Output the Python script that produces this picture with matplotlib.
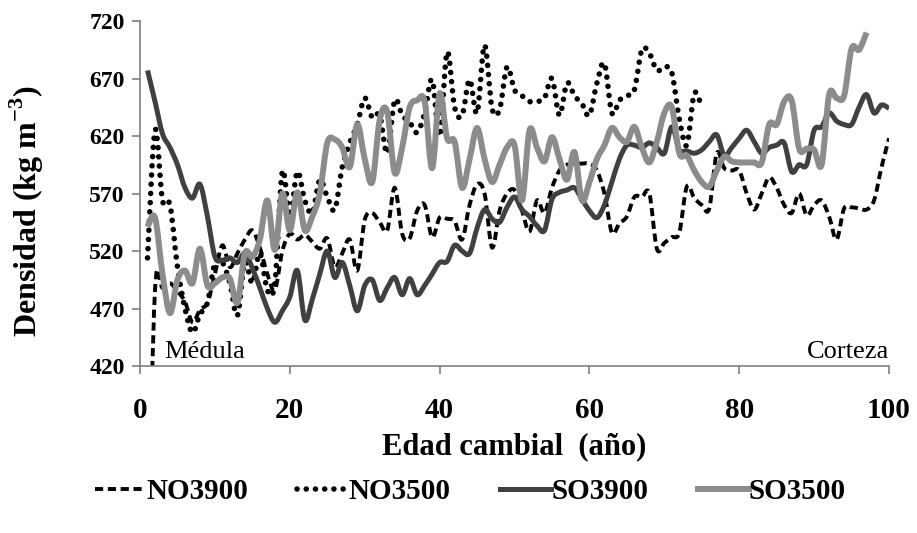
import numpy as np
import matplotlib
matplotlib.use("Agg")
import matplotlib.pyplot as plt
from matplotlib.path import Path
from matplotlib.patches import PathPatch
from matplotlib.lines import Line2D

plt.rcParams['font.family'] = ['Liberation Serif', 'DejaVu Serif']
plt.rcParams['mathtext.fontset'] = 'custom'
plt.rcParams['mathtext.rm'] = 'Liberation Serif'
plt.rcParams['mathtext.bf'] = 'Liberation Serif:bold'

# densidad por edad cambial (años 1..n)
no3900 = [250, 486, 488, 492, 485, 476, 458, 469, 475, 500,
          525, 506, 518, 530, 538, 523, 500, 486, 520, 535,
          530, 534, 528, 522, 531, 506, 518, 530, 503, 547,
          553, 545, 538, 575, 535, 531, 555, 560, 532, 549,
          548, 546, 530, 560, 578, 570, 523, 555, 570, 573,
          555, 537, 564, 553, 575, 590, 595, 596, 596, 596,
          590, 570, 536, 544, 550, 567, 567, 570, 522, 527,
          532, 536, 576, 566, 560, 557, 605, 592, 590, 590,
          570, 556, 570, 584, 575, 560, 553, 570, 551, 560,
          564, 550, 530, 557, 558, 557, 556, 564, 593, 618]
no3500 = [514, 625, 564, 560, 506, 470, 449, 465, 475, 510,
          510, 492, 464, 510, 492, 518, 486, 492, 589, 550,
          589, 564, 553, 582, 567, 556, 593, 614, 630, 653,
          636, 638, 605, 651, 638, 632, 623, 640, 669, 620,
          693, 645, 638, 669, 640, 699, 644, 643, 680, 660,
          655, 650, 650, 653, 670, 638, 666, 655, 648, 638,
          666, 683, 640, 651, 655, 660, 695, 692, 677, 680,
          675, 635, 612, 657, 645]
so3900 = [677, 650, 622, 610, 595, 575, 566, 578, 550, 515,
          512, 514, 510, 518, 505, 488, 470, 458, 468, 480,
          503, 460, 478, 500, 520, 497, 510, 490, 468, 490,
          495, 477, 488, 497, 482, 496, 482, 490, 500, 510,
          511, 525, 520, 518, 540, 556, 548, 545, 558, 567,
          556, 550, 542, 538, 565, 571, 573, 575, 565, 555,
          549, 560, 580, 600, 612, 612, 610, 614, 610, 605,
          628, 608, 607, 605, 608, 615, 621, 603, 610, 618,
          625, 615, 605, 610, 612, 614, 589, 595, 595, 625,
          628, 640, 633, 630, 630, 645, 656, 640, 647, 644]
so3500 = [541, 549, 500, 466, 495, 503, 492, 522, 490, 492,
          497, 496, 475, 518, 515, 530, 564, 521, 570, 538,
          571, 538, 550, 570, 614, 617, 610, 593, 630, 600,
          580, 634, 641, 588, 610, 645, 651, 650, 592, 657,
          618, 615, 575, 600, 627, 600, 580, 595, 610, 612,
          564, 625, 610, 598, 619, 600, 582, 606, 564, 580,
          600, 612, 627, 619, 615, 628, 610, 597, 615, 640,
          645, 605, 603, 590, 580, 576, 590, 602, 598, 597,
          597, 597, 597, 630, 630, 650, 651, 609, 609, 608,
          595, 656, 653, 655, 696, 695, 710]


def smooth_path(y):
    # curva suavizada tipo Excel (Bezier por Catmull-Rom)
    x = np.arange(1, len(y) + 1, dtype=float)
    p = np.column_stack([x, np.asarray(y, dtype=float)])
    verts = [p[0]]
    codes = [Path.MOVETO]
    n = len(p)
    for i in range(n - 1):
        p0 = p[i - 1] if i > 0 else p[i]
        p3 = p[i + 2] if i + 2 < n else p[i + 1]
        c1 = p[i] + (p[i + 1] - p0) / 6.0
        c2 = p[i + 1] - (p3 - p[i]) / 6.0
        verts += [c1, c2, p[i + 1]]
        codes += [Path.CURVE4] * 3
    return Path(verts, codes)


fig = plt.figure(figsize=(9.17, 5.33), dpi=100)
ax = fig.add_axes([0.1527, 0.3133, 0.8168, 0.6473])

estilos = [
    (no3900, 'NO3900', dict(color='black', lw=2.8, ls=(0, (2.1, 1.2)), cap='butt')),
    (no3500, 'NO3500', dict(color='black', lw=4.0, ls=(0, (0.01, 1.65)), cap='round')),
    (so3900, 'SO3900', dict(color='#404040', lw=3.6, ls='solid', cap='butt')),
    (so3500, 'SO3500', dict(color='#8c8c8c', lw=4.3, ls='solid', cap='butt')),
]
handles = []
for datos, nombre, st in estilos:
    patch = PathPatch(smooth_path(datos), facecolor='none', edgecolor=st['color'],
                      lw=st['lw'], linestyle=st['ls'], capstyle=st['cap'],
                      joinstyle='round')
    ax.add_patch(patch)
    handles.append(Line2D([], [], color=st['color'], lw=st['lw'], linestyle=st['ls'],
                          dash_capstyle=st['cap'], label=nombre))

ax.set_xlim(0, 100)
ax.set_ylim(420, 720)
ax.set_xticks(range(0, 101, 20))
ax.set_yticks(range(420, 721, 50))

for pos in ['right', 'top']:
    ax.spines[pos].set_visible(False)
for pos in ['left', 'bottom']:
    ax.spines[pos].set_color('#7f7f7f')
    ax.spines[pos].set_linewidth(1.2)
ax.tick_params(axis='both', direction='out', length=6, width=1.2, color='#7f7f7f')
ax.tick_params(axis='y', labelsize=17, pad=5)
ax.tick_params(axis='x', labelsize=21, pad=16)
for lab in ax.get_xticklabels() + ax.get_yticklabels():
    lab.set_fontweight('bold')

ax.set_xlabel('Edad cambial  (año)', fontsize=22, fontweight='bold', labelpad=6)
ax.set_ylabel(r'Densidad (kg m$^{\mathbf{-3}}$)', fontsize=23, fontweight='bold')
ax.yaxis.set_label_coords(-0.125, 0.45)

ax.text(3.2, 423, 'Médula', fontsize=19, ha='left', va='bottom')
ax.text(100, 423, 'Corteza', fontsize=19, ha='right', va='bottom')

fig.legend(handles=handles, loc='center', bbox_to_anchor=(0.513, 0.077), ncol=4,
           frameon=False, prop={'weight': 'bold', 'size': 21}, handlelength=1.75,
           handletextpad=0.0, columnspacing=1.7)

fig.savefig('out.png', dpi=100)
